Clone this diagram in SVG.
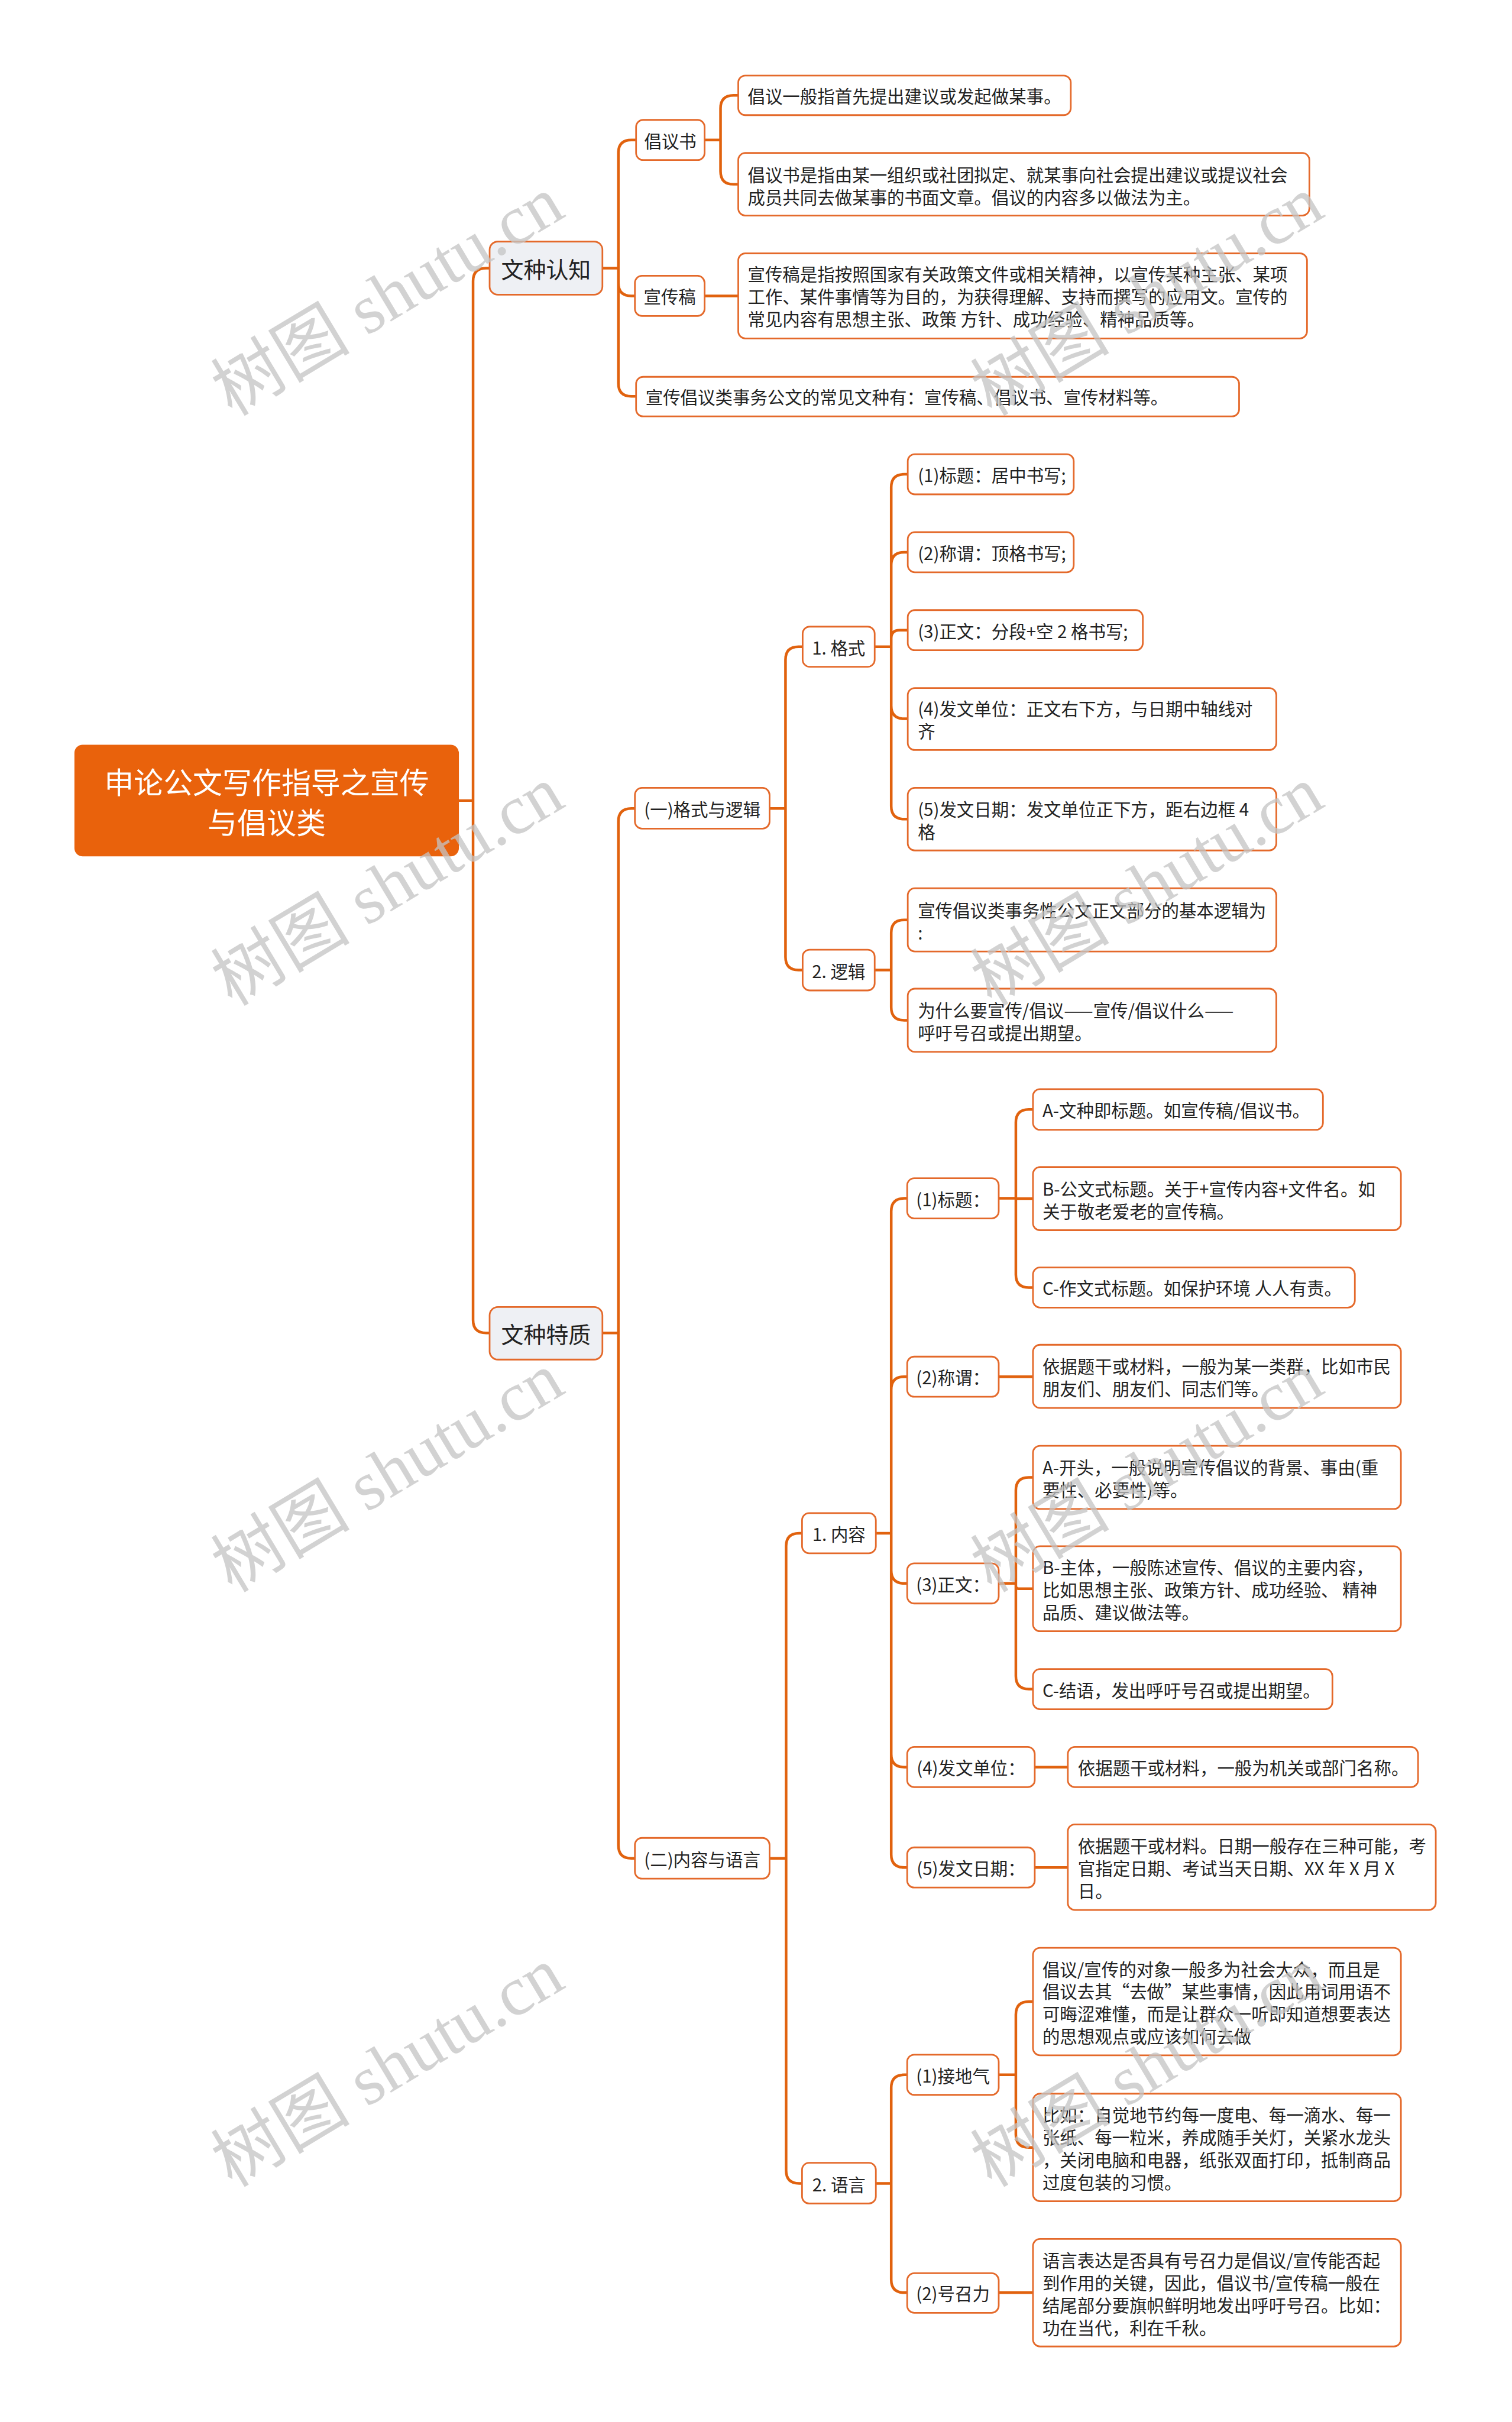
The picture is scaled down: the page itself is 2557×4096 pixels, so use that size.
<svg xmlns="http://www.w3.org/2000/svg" width="2557" height="4096" viewBox="0 0 2557 4096">
<style>
.ln{fill:none;stroke:#E1620E;stroke-width:4.5;stroke-linecap:round;stroke-linejoin:round}
.bx{fill:#ffffff;stroke:#E4692A;stroke-width:2.8}
.l1{fill:#EEF0F4;stroke:#E4692A;stroke-width:2.8}
.rt{fill:#E9620C}
.t{font-family:"Noto Sans CJK SC","Microsoft YaHei",sans-serif;font-size:29.5px;fill:#222222;dominant-baseline:central}
.c{text-anchor:middle}
.t1{font-family:"Noto Sans CJK SC","Microsoft YaHei",sans-serif;font-size:38px;fill:#222222;dominant-baseline:central;text-anchor:middle}
.t0{font-family:"Noto Sans CJK SC","Microsoft YaHei",sans-serif;font-size:50px;fill:#ffffff;dominant-baseline:central;text-anchor:middle}
.wm{font-family:"Liberation Serif","Noto Sans CJK SC",serif;font-size:118px;fill:#c4c4c4;opacity:0.75}
</style>
<rect x="0" y="0" width="2557" height="4096" fill="#ffffff"/>
<g transform="scale(0.9988)">
<g id="connectors">
<path class="ln" d="M777,1355.5 H801 M801,1355.5 V476 Q801,454 823,454 H829 M801,1355.5 V2235 Q801,2257 823,2257 H829"/>
<path class="ln" d="M1020,454 H1047 M1047,454 V259 Q1047,237 1069,237 H1077 M1047,454 V479 Q1047,501 1069,501 H1075 M1047,454 V649 Q1047,671 1069,671 H1077"/>
<path class="ln" d="M1193,237 H1220 M1220,237 V183.5 Q1220,161.5 1242,161.5 H1250 M1220,237 V290 Q1220,312 1242,312 H1250"/>
<path class="ln" d="M1193,501 H1250"/>
<path class="ln" d="M1020,2257 H1047 M1047,2257 V1391 Q1047,1369 1069,1369 H1075 M1047,2257 V3124.5 Q1047,3146.5 1069,3146.5 H1075"/>
<path class="ln" d="M1303,1369 H1330 M1330,1369 V1117 Q1330,1095 1352,1095 H1359 M1330,1369 V1620.5 Q1330,1642.5 1352,1642.5 H1359"/>
<path class="ln" d="M1481,1095 H1509 M1509,1095 V825 Q1509,803 1531,803 H1537 M1509,1095 V957 Q1509,935 1531,935 H1537 M1509,1095 V1081 Q1509,1067 1523,1067 H1537 M1509,1095 V1195 Q1509,1217 1531,1217 H1537 M1509,1095 V1365 Q1509,1387 1531,1387 H1537"/>
<path class="ln" d="M1481,1642.5 H1509 M1509,1642.5 V1579.5 Q1509,1557.5 1531,1557.5 H1537 M1509,1642.5 V1705.5 Q1509,1727.5 1531,1727.5 H1537"/>
<path class="ln" d="M1303,3146.5 H1331 M1331,3146.5 V2618 Q1331,2596 1353,2596 H1358 M1331,3146.5 V3675 Q1331,3697 1353,3697 H1358"/>
<path class="ln" d="M1483,2596 H1509 M1509,2596 V2051 Q1509,2029 1531,2029 H1536 M1509,2596 V2353 Q1509,2331 1531,2331 H1536 M1509,2596 V2659 Q1509,2681 1531,2681 H1536 M1509,2596 V2970 Q1509,2992 1531,2992 H1536 M1509,2596 V3140 Q1509,3162 1531,3162 H1536"/>
<path class="ln" d="M1691,2029 H1720 M1720,2029 V1900.5 Q1720,1878.5 1742,1878.5 H1749 M1720,2029 V2029.5 H1749 M1720,2029 V2158 Q1720,2180 1742,2180 H1749"/>
<path class="ln" d="M1691,2331 H1749"/>
<path class="ln" d="M1691,2681 H1720 M1720,2681 V2523.5 Q1720,2501.5 1742,2501.5 H1749 M1720,2681 V2685.5 Q1720,2690 1724.5,2690 H1749 M1720,2681 V2838 Q1720,2860 1742,2860 H1749"/>
<path class="ln" d="M1752,2992 H1808"/>
<path class="ln" d="M1752,3162 H1808"/>
<path class="ln" d="M1483,3697 H1509 M1509,3697 V3535 Q1509,3513 1531,3513 H1536 M1509,3697 V3860 Q1509,3882 1531,3882 H1536"/>
<path class="ln" d="M1691,3513 H1720 M1720,3513 V3411 Q1720,3389 1742,3389 H1749 M1720,3513 V3614 Q1720,3636 1742,3636 H1749"/>
<path class="ln" d="M1691,3882 H1749"/>
</g>

<g id="root"><rect class="rt" x="126" y="1261" width="651" height="189" rx="14"/>
<text class="t0" x="451.5" y="1322">申论公文写作指导之宣传</text>
<text class="t0" x="451.5" y="1390">与倡议类</text></g>

<g id="n-wzrz"><rect class="l1" x="829" y="409" width="191" height="90" rx="14"/><text class="t1" x="924.5" y="454">文种认知</text></g>
<g id="n-wztz"><rect class="l1" x="829" y="2213" width="191" height="89" rx="14"/><text class="t1" x="924.5" y="2257">文种特质</text></g>

<g id="n-cys"><rect class="bx" x="1077" y="203" width="116" height="68" rx="12"/><text class="t c" x="1135" y="237">倡议书</text></g>
<g id="n-cys-1"><rect class="bx" x="1250" y="128" width="563" height="67" rx="12"/><text class="t" x="1266" y="161.5">倡议一般指首先提出建议或发起做某事。</text></g>
<g id="n-cys-2"><rect class="bx" x="1250" y="259" width="967" height="106" rx="12"/><text class="t" x="1266" y="294.5">倡议书是指由某一组织或社团拟定、就某事向社会提出建议或提议社会</text><text class="t" x="1266" y="332.5">成员共同去做某事的书面文章。倡议的内容多以做法为主。</text></g>
<g id="n-xcg"><rect class="bx" x="1075" y="467" width="118" height="68" rx="12"/><text class="t c" x="1134" y="501">宣传稿</text></g>
<g id="n-xcg-1"><rect class="bx" x="1250" y="429" width="963" height="144" rx="12"/><text class="t" x="1266" y="463">宣传稿是指按照国家有关政策文件或相关精神，以宣传某种主张、某项</text><text class="t" x="1266" y="501">工作、某件事情等为目的，为获得理解、支持而撰写的应用文。宣传的</text><text class="t" x="1266" y="539">常见内容有思想主张、政策 方针、成功经验、精神品质等。</text></g>
<g id="n-cjwz"><rect class="bx" x="1077" y="638" width="1021" height="67" rx="12"/><text class="t" x="1093" y="671">宣传倡议类事务公文的常见文种有：宣传稿、倡议书、宣传材料等。</text></g>

<g id="n-gsyl"><rect class="bx" x="1075" y="1334" width="228" height="69" rx="12"/><text class="t c" x="1189" y="1369">(一)格式与逻辑</text></g>
<g id="n-gs"><rect class="bx" x="1359" y="1061" width="122" height="68" rx="12"/><text class="t c" x="1420" y="1095">1. 格式</text></g>
<g id="n-gs-1"><rect class="bx" x="1537" y="769" width="281" height="68" rx="12"/><text class="t" x="1554" y="803">(1)标题：居中书写;</text></g>
<g id="n-gs-2"><rect class="bx" x="1537" y="901" width="281" height="68" rx="12"/><text class="t" x="1554" y="935">(2)称谓：顶格书写;</text></g>
<g id="n-gs-3"><rect class="bx" x="1537" y="1033" width="398" height="68" rx="12"/><text class="t" x="1554" y="1067">(3)正文：分段+空 2 格书写;</text></g>
<g id="n-gs-4"><rect class="bx" x="1537" y="1165" width="624" height="105" rx="12"/><text class="t" x="1554" y="1198.5">(4)发文单位：正文右下方，与日期中轴线对</text><text class="t" x="1554" y="1236.5">齐</text></g>
<g id="n-gs-5"><rect class="bx" x="1537" y="1334" width="624" height="106" rx="12"/><text class="t" x="1554" y="1368.5">(5)发文日期：发文单位正下方，距右边框 4</text><text class="t" x="1554" y="1406.5">格</text></g>
<g id="n-lj"><rect class="bx" x="1359" y="1608" width="122" height="69" rx="12"/><text class="t c" x="1420" y="1642.5">2. 逻辑</text></g>
<g id="n-lj-1"><rect class="bx" x="1537" y="1504" width="624" height="107" rx="12"/><text class="t" x="1554" y="1539.5">宣传倡议类事务性公文正文部分的基本逻辑为</text><text class="t" x="1554" y="1577.5">:</text></g>
<g id="n-lj-2"><rect class="bx" x="1537" y="1674" width="624" height="107" rx="12"/><text class="t" x="1554" y="1709">为什么要宣传/倡议——宣传/倡议什么——</text><text class="t" x="1554" y="1747">呼吁号召或提出期望。</text></g>

<g id="n-nryy"><rect class="bx" x="1075" y="3112" width="228" height="69" rx="12"/><text class="t c" x="1189" y="3146.5">(二)内容与语言</text></g>
<g id="n-nr"><rect class="bx" x="1358" y="2562" width="125" height="68" rx="12"/><text class="t c" x="1420.5" y="2596">1. 内容</text></g>
<g id="n-bt"><rect class="bx" x="1536" y="1995" width="155" height="68" rx="12"/><text class="t c" x="1613.5" y="2029">(1)标题：</text></g>
<g id="n-bt-a"><rect class="bx" x="1749" y="1844" width="491" height="69" rx="12"/><text class="t" x="1765" y="1878.5">A-文种即标题。如宣传稿/倡议书。</text></g>
<g id="n-bt-b"><rect class="bx" x="1749" y="1976" width="623" height="107" rx="12"/><text class="t" x="1765" y="2011">B-公文式标题。关于+宣传内容+文件名。如</text><text class="t" x="1765" y="2049">关于敬老爱老的宣传稿。</text></g>
<g id="n-bt-c"><rect class="bx" x="1749" y="2146" width="545" height="68" rx="12"/><text class="t" x="1765" y="2180">C-作文式标题。如保护环境 人人有责。</text></g>
<g id="n-cw"><rect class="bx" x="1536" y="2297" width="155" height="68" rx="12"/><text class="t c" x="1613.5" y="2331">(2)称谓：</text></g>
<g id="n-cw-1"><rect class="bx" x="1749" y="2277" width="623" height="107" rx="12"/><text class="t" x="1765" y="2312">依据题干或材料，一般为某一类群，比如市民</text><text class="t" x="1765" y="2350">朋友们、朋友们、同志们等。</text></g>
<g id="n-zw"><rect class="bx" x="1536" y="2647" width="155" height="68" rx="12"/><text class="t c" x="1613.5" y="2681">(3)正文：</text></g>
<g id="n-zw-a"><rect class="bx" x="1749" y="2448" width="623" height="107" rx="12"/><text class="t" x="1765" y="2483">A-开头，一般说明宣传倡议的背景、事由(重</text><text class="t" x="1765" y="2521">要性、必要性)等。</text></g>
<g id="n-zw-b"><rect class="bx" x="1749" y="2618" width="623" height="144" rx="12"/><text class="t" x="1765" y="2652.5">B-主体，一般陈述宣传、倡议的主要内容，</text><text class="t" x="1765" y="2690.5">比如思想主张、政策方针、成功经验、 精神</text><text class="t" x="1765" y="2728.5">品质、建议做法等。</text></g>
<g id="n-zw-c"><rect class="bx" x="1749" y="2826" width="507" height="68" rx="12"/><text class="t" x="1765" y="2860">C-结语，发出呼吁号召或提出期望。</text></g>
<g id="n-fwdw"><rect class="bx" x="1536" y="2958" width="216" height="68" rx="12"/><text class="t c" x="1644" y="2992">(4)发文单位：</text></g>
<g id="n-fwdw-1"><rect class="bx" x="1808" y="2958" width="593" height="68" rx="12"/><text class="t" x="1825" y="2992">依据题干或材料，一般为机关或部门名称。</text></g>
<g id="n-fwrq"><rect class="bx" x="1536" y="3128" width="216" height="68" rx="12"/><text class="t c" x="1644" y="3162">(5)发文日期：</text></g>
<g id="n-fwrq-1"><rect class="bx" x="1808" y="3089" width="623" height="145" rx="12"/><text class="t" x="1825" y="3124">依据题干或材料。日期一般存在三种可能，考</text><text class="t" x="1825" y="3162">官指定日期、考试当天日期、XX 年 X 月 X</text><text class="t" x="1825" y="3200">日。</text></g>

<g id="n-yy"><rect class="bx" x="1358" y="3662" width="125" height="69" rx="12"/><text class="t c" x="1420.5" y="3697">2. 语言</text></g>
<g id="n-jdq"><rect class="bx" x="1536" y="3479" width="155" height="68" rx="12"/><text class="t c" x="1613.5" y="3513">(1)接地气</text></g>
<g id="n-jdq-1"><rect class="bx" x="1749" y="3298" width="623" height="182" rx="12"/><text class="t" x="1765" y="3332.5">倡议/宣传的对象一般多为社会大众，而且是</text><text class="t" x="1765" y="3370.5">倡议去其“去做”某些事情，因此用词用语不</text><text class="t" x="1765" y="3408.5">可晦涩难懂，而是让群众一听即知道想要表达</text><text class="t" x="1765" y="3446.5">的思想观点或应该如何去做</text></g>
<g id="n-jdq-2"><rect class="bx" x="1749" y="3545" width="623" height="182" rx="12"/><text class="t" x="1765" y="3579.5">比如：自觉地节约每一度电、每一滴水、每一</text><text class="t" x="1765" y="3617.5">张纸、每一粒米，养成随手关灯，关紧水龙头</text><text class="t" x="1765" y="3655.5">，关闭电脑和电器，纸张双面打印，抵制商品</text><text class="t" x="1765" y="3693.5">过度包装的习惯。</text></g>
<g id="n-hzl"><rect class="bx" x="1536" y="3849" width="155" height="67" rx="12"/><text class="t c" x="1613.5" y="3882">(2)号召力</text></g>
<g id="n-hzl-1"><rect class="bx" x="1749" y="3791" width="623" height="182" rx="12"/><text class="t" x="1765" y="3825.5">语言表达是否具有号召力是倡议/宣传能否起</text><text class="t" x="1765" y="3863.5">到作用的关键，因此，倡议书/宣传稿一般在</text><text class="t" x="1765" y="3901.5">结尾部分要旗帜鲜明地发出呼吁号召。比如：</text><text class="t" x="1765" y="3939.5">功在当代，利在千秋。</text></g>

<g id="watermarks">
<text class="wm" transform="translate(393,706) rotate(-31)">树图 shutu.cn</text>
<text class="wm" transform="translate(1679,706) rotate(-31)">树图 shutu.cn</text>
<text class="wm" transform="translate(393,1705) rotate(-31)">树图 shutu.cn</text>
<text class="wm" transform="translate(1679,1705) rotate(-31)">树图 shutu.cn</text>
<text class="wm" transform="translate(393,2698) rotate(-31)">树图 shutu.cn</text>
<text class="wm" transform="translate(1679,2698) rotate(-31)">树图 shutu.cn</text>
<text class="wm" transform="translate(393,3705) rotate(-31)">树图 shutu.cn</text>
<text class="wm" transform="translate(1679,3705) rotate(-31)">树图 shutu.cn</text>
</g>
</g>
</svg>
